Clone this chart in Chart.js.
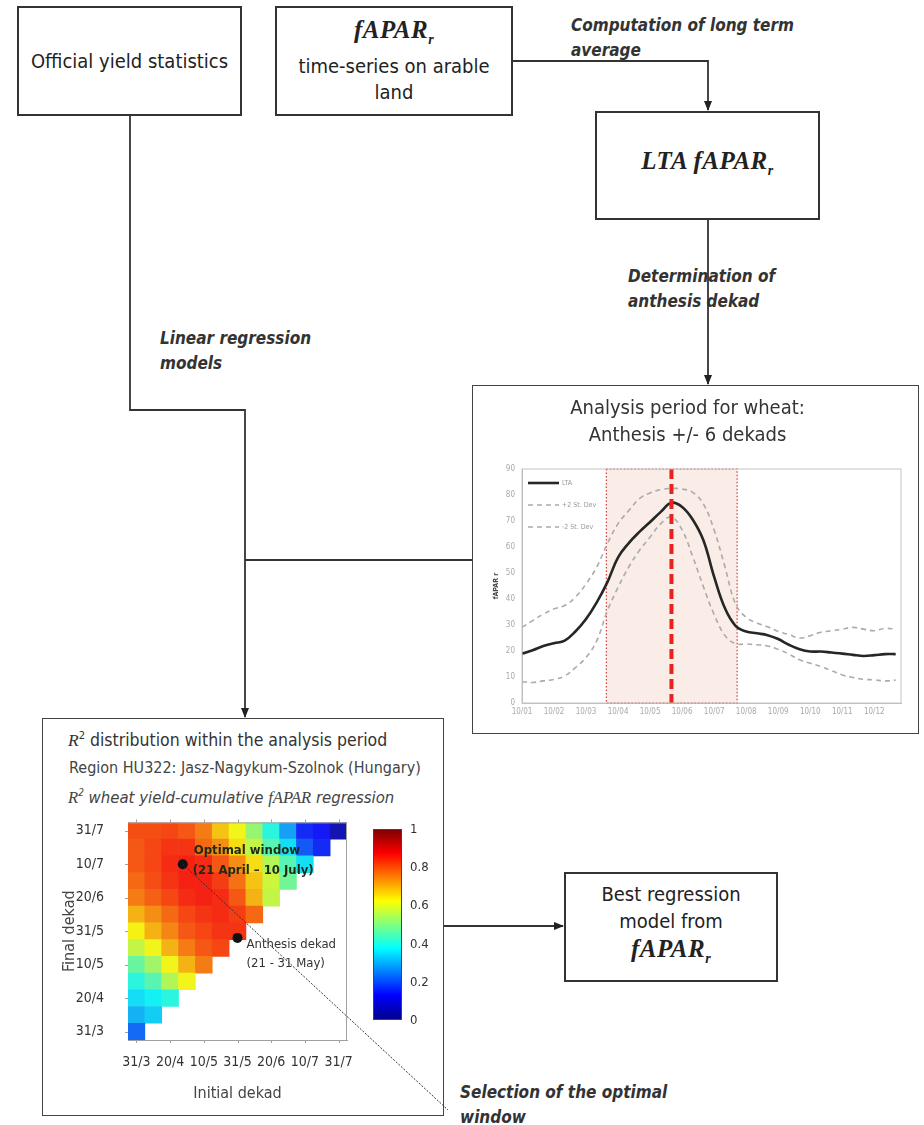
<!DOCTYPE html>
<html>
<head>
<meta charset="utf-8">
<script src="https://cdn.jsdelivr.net/npm/chart.js@4.4.1/dist/chart.umd.min.js"></script>
<style>
  body { margin: 0; background: #fff; }
  #page { position: relative; width: 924px; height: 1125px; overflow: hidden;
          font-family: "Liberation Sans Narrow", "DejaVu Sans Condensed", "Liberation Sans", sans-serif; color: #222; }
  .box { position: absolute; border: 2px solid #333; box-sizing: border-box; display: flex; flex-direction: column;
         justify-content: center; align-items: center; text-align: center; font-size: 20px; line-height: 26px; background: #fff; }
  .math { font-family: "Liberation Serif", "DejaVu Serif", serif; font-style: italic; font-weight: bold; font-size: 25px; letter-spacing: 0.5px; }
  .math sub { font-size: 14px; }
  .note { position: absolute; font-style: italic; font-weight: bold; font-size: 17px; line-height: 25px; color: #333; white-space: nowrap; }
  .frame { position: absolute; border: 1.5px solid #444; box-sizing: border-box; background: #fff; }
  .abs { position: absolute; white-space: nowrap; }
  canvas { position: absolute; }
</style>
</head>
<body>
<div id="page">
  <div class="box" style="left:17px;top:6px;width:225px;height:110px">Official yield statistics</div>
  <div class="box" style="left:275px;top:6px;width:238px;height:110px">
    <div class="math">fAPAR<sub>r</sub></div>
    <div>time-series on arable<br>land</div>
  </div>
  <div class="box" style="left:595px;top:111px;width:225px;height:109px">
    <div class="math">LTA fAPAR<sub>r</sub></div>
  </div>
  <div class="box" style="left:564px;top:872px;width:214px;height:110px;line-height:27px">
    <div>Best regression<br>model from</div>
    <div class="math" style="line-height:28px">fAPAR<sub>r</sub></div>
  </div>

  <div class="note" style="left:571px;top:13px">Computation of long term</div>
  <div class="note" style="left:571px;top:38px">average</div>
  <div class="note" style="left:628px;top:264px">Determination of</div>
  <div class="note" style="left:628px;top:289px">anthesis dekad</div>
  <div class="note" style="left:160px;top:326px">Linear regression</div>
  <div class="note" style="left:160px;top:351px">models</div>
  <div class="note" style="left:460px;top:1080px">Selection of the optimal</div>
  <div class="note" style="left:460px;top:1105px">window</div>

  <div class="frame" style="left:472px;top:385px;width:447px;height:349px"></div>
  <canvas id="fapar" width="444" height="346" style="left:474px;top:387px"></canvas>

  <div class="frame" style="left:42px;top:718px;width:402px;height:398px"></div>
  <div class="abs" style="left:68px;top:725px;font-size:17.5px;line-height:22px;color:#333"><i style="font-family:'Liberation Serif',serif">R</i><sup style="font-size:11px">2</sup> distribution within the analysis period</div>
  <div class="abs" style="left:69px;top:758px;font-size:16px;line-height:20px;color:#444">Region HU322: Jasz-Nagykum-Szolnok (Hungary)</div>
  <div class="abs" style="left:68px;top:782px;font-size:16.6px;line-height:22px;color:#444;font-style:italic"><span style="font-family:'Liberation Serif',serif">R</span><sup style="font-size:10px">2</sup> wheat yield-cumulative <span style="font-family:'Liberation Serif',serif">fAPAR</span> regression</div>
  <canvas id="heat" width="310" height="299" style="left:47px;top:812px"></canvas>
  <div id="cbar" class="abs" style="left:373px;top:829px;width:29px;height:191px;border:1px solid #444;box-sizing:border-box;
       background:linear-gradient(to top,#00008f 0%,#0000ff 12.5%,#00ffff 37.5%,#ffff00 62.5%,#ff0000 87.5%,#800000 100%)"></div>

  <svg id="links" width="924" height="1125" style="position:absolute;left:0;top:0;pointer-events:none">
    <defs>
      <marker id="ah" markerWidth="10" markerHeight="8" refX="9" refY="4" orient="auto" markerUnits="userSpaceOnUse">
        <path d="M0,0 L10,4 L0,8 z" fill="#222"/>
      </marker>
    </defs>
    <g fill="none" stroke="#333" stroke-width="1.8">
      <path d="M513,61 H708 V110" marker-end="url(#ah)"/>
      <path d="M708,220 V384" marker-end="url(#ah)"/>
      <path d="M130,116 V410 H245 V717" marker-end="url(#ah)"/>
      <path d="M245,560 H472"/>
      <path d="M444,926 H563" marker-end="url(#ah)"/>
    </g>
  </svg>
</div>

<script>
// ---------- fAPAR time series (36 dekads, Jan..Dec) ----------
var monthTicks = ["10/01", "10/02", "10/03", "10/04", "10/05", "10/06", "10/07", "10/08", "10/09", "10/10", "10/11", "10/12"];
var fTicks = [0, 10, 20, 30, 40, 50, 60, 70, 80, 90];
var ltaValues = [19.0, 20.3, 21.9, 23.0, 24.0, 27.5, 32.3, 38.7, 46.5, 56.0, 61.5, 65.8, 69.6, 73.5, 77.0, 75.4, 70.5, 62.5,
                 48.5, 36.5, 29.7, 27.5, 26.8, 26.1, 24.6, 22.4, 20.7, 19.8, 19.8, 19.4, 19.0, 18.5, 18.1, 18.4, 18.8, 18.8];
var plus2sd = [29.1, 31.7, 34.2, 36.2, 37.5, 40.7, 45.8, 52.3, 61.3, 69.0, 74.0, 78.6, 80.8, 82.1, 82.5, 82.3, 81.0, 76.5,
               66.5, 52.5, 38.1, 32.9, 30.8, 29.3, 27.5, 26.3, 25.0, 25.9, 27.2, 27.8, 28.4, 29.1, 28.4, 27.8, 28.7, 28.4];
var minus2sd = [8.2, 7.9, 8.5, 9.1, 10.4, 13.6, 17.5, 23.9, 35.5, 44.5, 52.3, 58.7, 63.8, 69.0, 71.5, 66.5, 56.2, 44.6,
                34.0, 26.0, 22.8, 22.7, 22.4, 21.9, 20.6, 18.8, 16.6, 15.3, 14.0, 12.4, 10.8, 9.8, 9.1, 8.9, 8.5, 8.8];
var analysisStart = 7.9;
var analysisEnd = 20.15;
var anthesisDekad = 14;

// ---------- R2 matrix: rows = final dekad, values = initial dekad 0..row ----------
var dekadLabels = ["31/3", "10/4", "20/4", "30/4", "10/5", "20/5", "31/5", "10/6", "20/6", "30/6", "10/7", "20/7", "31/7"];
var heatTickIdx = [0, 2, 4, 6, 8, 10, 12];
var r2Rows = [
  [0.22],
  [0.30, 0.33],
  [0.35, 0.37, 0.40],
  [0.40, 0.45, 0.55, 0.62],
  [0.47, 0.53, 0.62, 0.70, 0.76],
  [0.57, 0.62, 0.70, 0.76, 0.80, 0.82],
  [0.63, 0.70, 0.75, 0.80, 0.82, 0.84, 0.84],
  [0.70, 0.74, 0.78, 0.82, 0.84, 0.85, 0.83, 0.78],
  [0.76, 0.79, 0.82, 0.85, 0.86, 0.85, 0.80, 0.70, 0.57],
  [0.78, 0.81, 0.84, 0.86, 0.86, 0.83, 0.77, 0.68, 0.58, 0.48],
  [0.80, 0.82, 0.85, 0.86, 0.85, 0.80, 0.74, 0.65, 0.55, 0.45, 0.35],
  [0.80, 0.82, 0.84, 0.84, 0.78, 0.74, 0.65, 0.57, 0.45, 0.35, 0.20, 0.15],
  [0.81, 0.81, 0.82, 0.80, 0.76, 0.68, 0.62, 0.52, 0.40, 0.28, 0.15, 0.13, 0.05]
];
var optimalWindow = { x: 2.75, y: 10 };
var anthesisPoint = { x: 6, y: 5.6 };
var colorbarTicks = [1, 0.8, 0.6, 0.4, 0.2, 0];

var FONT = '"Liberation Sans Narrow", "DejaVu Sans Condensed", "Liberation Sans", sans-serif';
Chart.defaults.font.family = FONT;

// MATLAB-style jet colour map, slightly softened
function jet(v) {
  function c(t) { return Math.round(20 + 225 * Math.max(0, Math.min(1, t))); }
  return "rgb(" + c(1.5 - Math.abs(4 * v - 3)) + "," + c(1.5 - Math.abs(4 * v - 2)) + "," + c(1.5 - Math.abs(4 * v - 1)) + ")";
}

// shaded analysis window + anthesis line
var windowPlugin = {
  id: "analysisWindow",
  beforeDatasetsDraw: function (chart) {
    var ctx = chart.ctx, a = chart.chartArea, x = chart.scales.x;
    var x0 = x.getPixelForValue(analysisStart), x1 = x.getPixelForValue(analysisEnd);
    ctx.save();
    ctx.fillStyle = "rgba(246,218,206,0.5)";
    ctx.fillRect(x0, a.top, x1 - x0, a.bottom - a.top);
    ctx.strokeStyle = "#d23a3a";
    ctx.lineWidth = 1.2;
    ctx.setLineDash([1.5, 2]);
    ctx.strokeRect(x0, a.top, x1 - x0, a.bottom - a.top);
    ctx.restore();
  },
  afterDatasetsDraw: function (chart) {
    var ctx = chart.ctx, a = chart.chartArea, x = chart.scales.x;
    var xa = x.getPixelForValue(anthesisDekad);
    ctx.save();
    ctx.strokeStyle = "#e8231d";
    ctx.lineWidth = 4;
    ctx.setLineDash([10, 5]);
    ctx.beginPath();
    ctx.moveTo(xa, a.top);
    ctx.lineTo(xa, a.bottom);
    ctx.stroke();
    // frame
    ctx.setLineDash([]);
    ctx.lineWidth = 1;
    ctx.strokeStyle = "#c4c4c4";
    ctx.strokeRect(a.left, a.top, a.right - a.left, a.bottom - a.top);
    // legend inside plot
    ctx.font = "7px " + FONT;
    ctx.textBaseline = "middle";
    chart.data.datasets.forEach(function (ds, i) {
      var y = a.top + 14 + 22 * i;
      ctx.strokeStyle = ds.borderColor;
      ctx.lineWidth = ds.borderWidth;
      ctx.setLineDash(ds.borderDash || []);
      ctx.beginPath();
      ctx.moveTo(a.left + 6, y);
      ctx.lineTo(a.left + 37, y);
      ctx.stroke();
      ctx.fillStyle = "#999";
      ctx.fillText(ds.label, a.left + 40, y);
    });
    ctx.restore();
  }
};

function toXY(arr) { return arr.map(function (v, i) { return { x: i, y: v }; }); }

new Chart(document.getElementById("fapar"), {
  type: "line",
  data: {
    datasets: [
      { label: "LTA", data: toXY(ltaValues), borderColor: "#262626", borderWidth: 2.6, pointRadius: 0, tension: 0.4 },
      { label: "+2 St. Dev", data: toXY(plus2sd), borderColor: "#ababab", borderWidth: 1.6, borderDash: [5, 4], pointRadius: 0, tension: 0.4 },
      { label: "-2 St. Dev", data: toXY(minus2sd), borderColor: "#ababab", borderWidth: 1.6, borderDash: [5, 4], pointRadius: 0, tension: 0.4 }
    ]
  },
  options: {
    responsive: false,
    animation: false,
    layout: { padding: { right: 17 } },
    plugins: {
      legend: { display: false },
      tooltip: { enabled: false },
      title: {
        display: true,
        text: ["Analysis period for wheat:", "Anthesis +/- 6 dekads"],
        color: "#333",
        font: { size: 20, weight: "normal", lineHeight: 1.35 },
        padding: { top: 8, bottom: 20 }
      }
    },
    scales: {
      x: {
        type: "linear", min: 0, max: 35.5,
        afterBuildTicks: function (s) { s.ticks = monthTicks.map(function (_, m) { return { value: m * 3 }; }); },
        afterFit: function (s) { s.height = 30; },
        ticks: { callback: function (v) { return monthTicks[v / 3]; }, autoSkip: false, maxRotation: 0, font: { size: 8 }, color: "#a8a8a8", padding: 4 },
        grid: { display: false, drawTicks: false },
        border: { color: "#bdbdbd" }
      },
      y: {
        min: 0, max: 90,
        afterBuildTicks: function (s) { s.ticks = fTicks.map(function (v) { return { value: v }; }); },
        afterFit: function (s) { s.width = 48; },
        ticks: { font: { size: 8 }, color: "#a8a8a8", padding: 7 },
        title: { display: true, text: "fAPAR r", font: { size: 7, weight: "bold" }, color: "#444", padding: { top: 18, bottom: 0 } },
        grid: { display: false, drawTicks: false },
        border: { color: "#bdbdbd" }
      }
    }
  },
  plugins: [windowPlugin]
});

// ---------- heat map ----------
var heatDatasets = r2Rows.map(function (row, f) {
  return {
    data: dekadLabels.map(function (_, c) { return c < row.length ? [f - 0.5, f + 0.5] : null; }),
    backgroundColor: dekadLabels.map(function (_, c) { return c < row.length ? jet(row[c]) : "rgba(0,0,0,0)"; }),
    borderWidth: 0,
    grouped: false,
    barPercentage: 1,
    categoryPercentage: 1
  };
});

var heatPlugin = {
  id: "heatNotes",
  afterDatasetsDraw: function (chart) {
    var ctx = chart.ctx, a = chart.chartArea, xs = chart.scales.x, ys = chart.scales.y;
    ctx.save();
    ctx.strokeStyle = "#a0a0a0";
    ctx.lineWidth = 1;
    ctx.beginPath();
    ctx.moveTo(a.left, a.top + 0.5);
    ctx.lineTo(a.right - 0.5, a.top + 0.5);
    ctx.lineTo(a.right - 0.5, a.bottom);
    // small tick marks at the labelled dekads
    heatTickIdx.forEach(function (v) {
      var px = Math.round(xs.getPixelForValue(v)) + 0.5, py = Math.round(ys.getPixelForValue(v)) + 0.5;
      ctx.moveTo(px, a.top); ctx.lineTo(px, a.top - 3);
      ctx.moveTo(px, a.bottom); ctx.lineTo(px, a.bottom + 3);
      ctx.moveTo(a.left, py); ctx.lineTo(a.left - 3, py);
    });
    ctx.stroke();
    var ox = xs.getPixelForValue(optimalWindow.x), oy = ys.getPixelForValue(optimalWindow.y);
    var ax = xs.getPixelForValue(anthesisPoint.x), ay = ys.getPixelForValue(anthesisPoint.y);
    ctx.fillStyle = "#111";
    [[ox, oy], [ax, ay]].forEach(function (p) {
      ctx.beginPath();
      ctx.arc(p[0], p[1], 5, 0, Math.PI * 2);
      ctx.fill();
    });
    ctx.textBaseline = "middle";
    ctx.fillStyle = "#1f2a14";
    ctx.font = "bold 13px " + FONT;
    ctx.fillText("Optimal window", ox + 11, oy - 14);
    ctx.fillText("(21 April \u2013 10 July)", ox + 10, oy + 6);
    ctx.fillStyle = "#333";
    ctx.font = "13px " + FONT;
    ctx.fillText("Anthesis dekad", ax + 9, ay + 7);
    ctx.fillText("(21 - 31 May)", ax + 9, ay + 26);
    ctx.restore();
  }
};

var heat = new Chart(document.getElementById("heat"), {
  type: "bar",
  data: { labels: dekadLabels, datasets: heatDatasets },
  options: {
    responsive: false,
    animation: false,
    layout: { padding: { top: 0, right: 10 }, autoPadding: false },
    plugins: { legend: { display: false }, tooltip: { enabled: false } },
    scales: {
      x: {
        type: "category", offset: true,
        afterFit: function (s) { s.height = 71; },
        ticks: { autoSkip: false, maxRotation: 0, padding: 2, font: { size: 14 }, color: "#333",
                 callback: function (v, i) { return i % 2 === 0 ? dekadLabels[i] : ""; } },
        title: { display: true, text: "Initial dekad", font: { size: 16 }, color: "#444", padding: { top: 4, bottom: 8 } },
        grid: { display: true, drawOnChartArea: false, drawTicks: true, tickLength: 12, color: "rgba(0,0,0,0)" },
        border: { color: "#a0a0a0" }
      },
      y: {
        type: "linear", min: -0.5, max: 12.5,
        afterBuildTicks: function (s) { s.ticks = heatTickIdx.map(function (v) { return { value: v }; }); },
        afterFit: function (s) { s.width = 81; },
        ticks: { padding: 2, font: { size: 14 }, color: "#333", callback: function (v) { return dekadLabels[v]; } },
        title: { display: true, text: "Final dekad", font: { size: 16 }, color: "#444", padding: { top: 13, bottom: 0 } },
        grid: { display: true, drawOnChartArea: false, drawTicks: true, tickLength: 22, color: "rgba(0,0,0,0)" },
        border: { color: "#a0a0a0" }
      }
    }
  },
  plugins: [heatPlugin]
});

// colour bar labels
var page = document.getElementById("page");
colorbarTicks.forEach(function (v) {
  var d = document.createElement("div");
  d.className = "abs";
  d.style.cssText = "left:410px;font-size:13px;color:#333;line-height:14px;top:" + (829 + (1 - v) * 191 - 7) + "px";
  d.textContent = String(v);
  page.appendChild(d);
});

// selection line from the optimal window dot
var canvasLeft = 47, canvasTop = 812;
var sx = canvasLeft + heat.scales.x.getPixelForValue(optimalWindow.x);
var sy = canvasTop + heat.scales.y.getPixelForValue(optimalWindow.y);
var ln = document.createElementNS("http://www.w3.org/2000/svg", "line");
ln.setAttribute("x1", sx); ln.setAttribute("y1", sy);
ln.setAttribute("x2", 448); ln.setAttribute("y2", 1110);
ln.setAttribute("stroke", "#333"); ln.setAttribute("stroke-width", "1");
ln.setAttribute("stroke-dasharray", "2,1.5");
document.getElementById("links").appendChild(ln);
</script>
</body>
</html>
